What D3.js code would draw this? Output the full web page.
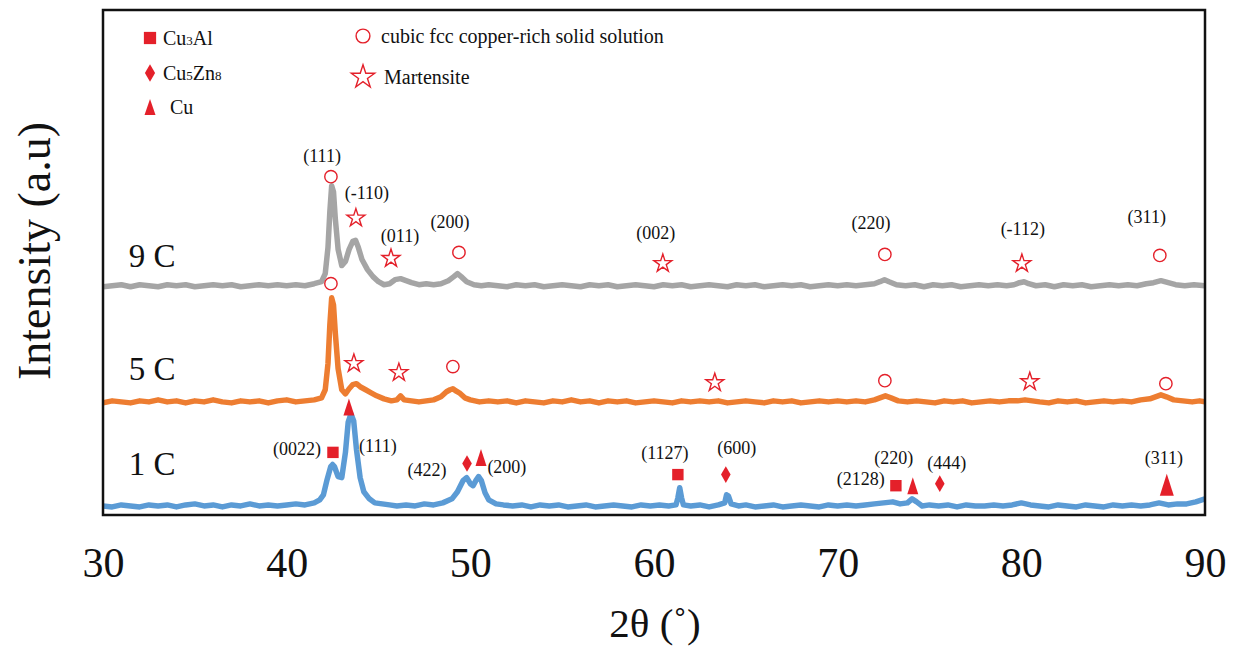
<!DOCTYPE html>
<html>
<head>
<meta charset="utf-8">
<script src="https://cdn.jsdelivr.net/npm/d3@7"></script>
<style>
  body { margin: 0; background: #fff; }
  svg { display: block; }
  text { font-family: "Liberation Serif", "Times New Roman", serif; }
</style>
</head>
<body>
<svg id="chart" width="1234" height="648"></svg>
<script>
// 2-theta ticks
const xTicks = [30, 40, 50, 60, 70, 80, 90];

// vertical offsets of each pattern (a.u.)
const offsets = { "1 C": 7, "5 C": 110, "9 C": 225 };

// relative intensity: [2theta, intensity]
const pattern1C = [
  [30,2],[30.5,1],[31,3],[31.5,2],[32,1],[32.5,3],[33,2],[33.5,3],[34,1],[34.5,3],[35,4],[35.5,2],
  [36,3],[36.5,1],[37,3],[37.5,2],[38,4],[38.5,2],[39,3],[39.5,2],[40,3],[40.5,4],[41,3],[41.5,5],
  [41.8,8],[42.0,13],[42.2,28],[42.4,41],[42.5,43],[42.6,41],[42.8,31],[43.0,30],[43.2,55],[43.35,85],
  [43.5,93],[43.65,86],[43.8,58],[44.0,30],[44.2,16],[44.5,9],[44.8,5],[45.2,4],[45.6,3],[46,2],
  [46.5,3],[47,2],[47.5,4],[48,3],[48.5,5],[49,9],[49.3,16],[49.6,27],[49.8,30],[50.0,24],[50.15,22],
  [50.3,27],[50.45,31],[50.6,27],[50.8,15],[51.0,8],[51.4,4],[51.8,3],[52.3,2],[52.8,3],[53.3,1],
  [53.8,3],[54.3,2],[54.8,3],[55.3,1],[55.8,2],[56.3,3],[56.8,1],[57.3,2],[57.8,3],[58.3,2],[58.8,1],
  [59.3,3],[59.8,2],[60.3,3],[60.8,2],[61.2,3],[61.3,10],[61.4,20],[61.5,10],[61.6,3],[62,2],[62.5,3],
  [63,1],[63.5,3],[63.85,5],[63.95,13],[64.05,12],[64.2,4],[64.6,2],[65,3],[65.5,1],[66,2],[66.5,3],
  [67,1],[67.5,2],[68,3],[68.5,2],[69,1],[69.5,3],[70,2],[70.5,3],[71,2],[71.5,3],[72,4],[72.5,5],
  [73,6],[73.4,4],[73.8,5],[74.05,9],[74.3,6],[74.6,2],[75,3],[75.5,2],[76,3],[76.5,1],[77,3],[77.5,2],
  [78,2],[78.5,3],[79,2],[79.5,3],[80,5],[80.5,3],[81,2],[81.5,1],[82,3],[82.5,2],[83,1],[83.5,3],
  [84,2],[84.5,1],[85,3],[85.5,2],[86,3],[86.5,2],[87,3],[87.5,5],[88,3],[88.5,4],[89,4],[89.5,6],[90,9]
];

const pattern5C = [
  [30,1],[30.5,3],[31,2],[31.5,1],[32,3],[32.5,2],[33,4],[33.5,2],[34,3],[34.5,1],[35,3],[35.5,2],
  [36,4],[36.5,2],[37,1],[37.5,3],[38,2],[38.5,3],[39,1],[39.5,3],[40,4],[40.5,2],[41,3],[41.5,4],
  [41.9,6],[42.1,14],[42.25,40],[42.35,78],[42.45,105],[42.55,98],[42.65,70],[42.8,35],[43.0,14],
  [43.2,10],[43.4,15],[43.6,19],[43.8,20],[44.0,17],[44.3,14],[44.6,11],[44.9,8],[45.3,5],[45.7,3],
  [46.0,4],[46.2,8],[46.4,4],[46.8,3],[47.2,2],[47.6,3],[48.0,4],[48.4,7],[48.7,12],[48.9,14],
  [49.05,15],[49.2,13],[49.4,11],[49.7,6],[50.0,4],[50.5,2],[51,3],[51.5,2],[52,3],[52.5,1],[53,3],
  [53.5,2],[54,1],[54.5,3],[55,2],[55.5,4],[56,2],[56.5,3],[57,1],[57.5,3],[58,2],[58.5,3],[59,1],
  [59.5,2],[60,3],[60.5,2],[61,1],[61.5,3],[62,2],[62.5,3],[63,2],[63.5,3],[64,1],[64.5,2],[65,3],
  [65.5,2],[66,1],[66.5,3],[67,2],[67.5,3],[68,1],[68.5,2],[69,3],[69.5,2],[70,3],[70.5,2],[71,3],
  [71.5,2],[72,4],[72.3,6],[72.6,8],[72.9,6],[73.3,3],[73.8,2],[74.3,3],[74.8,2],[75.3,1],[75.8,3],
  [76.3,2],[76.8,3],[77.3,1],[77.8,2],[78.3,3],[78.8,2],[79.3,3],[79.8,3],[80.2,4],[80.6,3],[81,2],
  [81.5,1],[82,3],[82.5,2],[83,3],[83.5,1],[84,2],[84.5,3],[85,2],[85.5,3],[86,2],[86.5,4],[87,5],
  [87.3,7],[87.6,9],[87.9,7],[88.3,4],[88.8,3],[89.3,2],[89.7,3],[90,2]
];

const pattern9C = [
  [30,1],[30.5,2],[31,3],[31.5,1],[32,3],[32.5,2],[33,1],[33.5,3],[34,2],[34.5,3],[35,1],[35.5,2],
  [36,3],[36.5,2],[37,3],[37.5,1],[38,2],[38.5,3],[39,2],[39.5,3],[40,2],[40.5,3],[41,2],[41.5,4],
  [41.9,6],[42.1,14],[42.25,40],[42.35,75],[42.45,101],[42.55,95],[42.65,68],[42.8,38],[43.0,22],
  [43.2,26],[43.4,38],[43.6,46],[43.75,47],[43.9,40],[44.1,28],[44.4,18],[44.7,11],[45.0,6],[45.3,3],
  [45.6,4],[45.9,8],[46.2,9],[46.5,7],[46.8,5],[47.2,3],[47.6,4],[48.0,3],[48.4,4],[48.8,7],[49.1,11],
  [49.3,14],[49.5,11],[49.8,6],[50.2,3],[50.6,2],[51,3],[51.5,2],[52,1],[52.5,3],[53,2],[53.5,3],
  [54,1],[54.5,2],[55,3],[55.5,2],[56,1],[56.5,3],[57,2],[57.5,3],[58,1],[58.5,2],[59,3],[59.5,2],
  [60,1],[60.5,3],[61,2],[61.5,3],[62,1],[62.5,2],[63,3],[63.5,2],[64,1],[64.5,3],[65,2],[65.5,3],
  [66,1],[66.5,2],[67,3],[67.5,2],[68,3],[68.5,1],[69,2],[69.5,3],[70,2],[70.5,3],[71,2],[71.5,3],
  [72,4],[72.3,6],[72.55,8],[72.8,6],[73.2,3],[73.7,2],[74.2,3],[74.7,1],[75.2,3],[75.7,2],[76.2,3],
  [76.7,1],[77.2,2],[77.7,3],[78.2,2],[78.7,3],[79.2,2],[79.6,3],[79.9,5],[80.15,6],[80.4,4],[80.8,2],
  [81.3,3],[81.8,1],[82.3,3],[82.8,2],[83.3,3],[83.8,1],[84.3,2],[84.8,3],[85.3,2],[85.8,3],[86.3,2],
  [86.8,4],[87.2,5],[87.6,7],[88.0,5],[88.4,3],[88.9,2],[89.4,3],[90,2]
];

const seriesNames = ["9 C", "5 C", "1 C"];
const seriesColors = ["#a5a5a5", "#ed7d31", "#5b9bd5"];
const seriesData = [pattern9C, pattern5C, pattern1C];

// phase markers: [phase, 2theta, level]
const markers = [
  ["fcc", 42.41, 335], ["mart", 43.77, 294], ["mart", 45.68, 254], ["fcc", 49.38, 260],
  ["mart", 60.48, 249], ["fcc", 72.57, 258], ["mart", 80.03, 249], ["fcc", 87.54, 257],
  ["fcc", 42.41, 229], ["mart", 43.66, 150], ["mart", 46.11, 141], ["fcc", 49.05, 147],
  ["mart", 63.31, 131], ["fcc", 72.57, 133], ["mart", 80.46, 132], ["fcc", 87.87, 130],
  ["Cu", 43.39, 107], ["Cu3Al", 42.52, 62], ["Cu5Zn8", 49.82, 51], ["Cu", 50.58, 57],
  ["Cu3Al", 61.3, 40], ["Cu5Zn8", 63.91, 40], ["Cu3Al", 73.17, 29], ["Cu", 74.09, 29],
  ["Cu5Zn8", 75.56, 31], ["CuBig", 87.92, 30]
];

// Miller index labels: [text, 2theta, level]
const peakLabels = [
  ["(111)", 41.93, 356], ["(-110)", 44.37, 319], ["(011)", 46.17, 277], ["(200)", 48.89, 290],
  ["(002)", 60.1, 280], ["(220)", 71.81, 289], ["(-112)", 80.08, 283], ["(311)", 86.83, 295],
  ["(0022)", 40.56, 66], ["(111)", 44.97, 69], ["(422)", 47.64, 45], ["(200)", 51.99, 48],
  ["(1127)", 60.59, 62], ["(600)", 64.51, 67], ["(2128)", 71.26, 36], ["(220)", 73.06, 57],
  ["(444)", 75.94, 52], ["(311)", 87.76, 57]
];

// series name positions: [name, 2theta, level]
const seriesLabelPos = [["9 C", 31.4, 246], ["5 C", 31.4, 134], ["1 C", 31.4, 40]];

const red = "#e4202a";

const svg = d3.select("#chart");
const margin = { left: 103, right: 29, top: 10, bottom: 133 };
const W = 1234, H = 648;

const x = d3.scaleLinear().domain([30, 90]).range([margin.left, W - margin.right]);
const y = d3.scaleLinear().domain([0, 500]).range([H - margin.bottom, margin.top]);

svg.append("clipPath").attr("id", "plot-clip")
  .append("rect")
  .attr("x", margin.left).attr("y", margin.top)
  .attr("width", x.range()[1] - x.range()[0])
  .attr("height", y.range()[0] - y.range()[1]);

// patterns
const plot = svg.append("g").attr("clip-path", "url(#plot-clip)");
seriesNames.forEach((name, i) => {
  const line = d3.line()
    .x(d => x(d[0]))
    .y(d => y(d[1] + offsets[name]));
  plot.append("path")
    .datum(seriesData[i])
    .attr("fill", "none")
    .attr("stroke", seriesColors[i])
    .attr("stroke-width", 5.5)
    .attr("stroke-linejoin", "round")
    .attr("d", line);
});

// frame
svg.append("rect")
  .attr("x", margin.left).attr("y", margin.top)
  .attr("width", x.range()[1] - x.range()[0])
  .attr("height", y.range()[0] - y.range()[1])
  .attr("fill", "none")
  .attr("stroke", "#111")
  .attr("stroke-width", 2.5);

// marker shapes
function triPath(w, h) {
  return `M0,${-h / 2}L${w / 2},${h / 2}L${-w / 2},${h / 2}Z`;
}
function markerPath(phase) {
  switch (phase) {
    case "Cu3Al": return d3.symbol(d3.symbolSquare, 130)();
    case "Cu5Zn8": return d3.symbol(d3.symbolDiamond, 80)();
    case "Cu": return triPath(11, 17);
    case "CuBig": return triPath(14, 22);
    case "fcc": return d3.symbol(d3.symbolCircle, 120)();
    case "mart": return d3.symbol(d3.symbolStar, 100)();
  }
}
const hollow = p => p === "fcc" || p === "mart";

svg.append("g").selectAll("path")
  .data(markers)
  .join("path")
  .attr("transform", d => `translate(${x(d[1])},${y(d[2])})`)
  .attr("d", d => markerPath(d[0]))
  .attr("fill", d => hollow(d[0]) ? "none" : red)
  .attr("stroke", red)
  .attr("stroke-width", d => hollow(d[0]) ? 1.4 : 0);

// Miller labels
svg.append("g").selectAll("text")
  .data(peakLabels)
  .join("text")
  .attr("x", d => x(d[1]))
  .attr("y", d => y(d[2]))
  .attr("dy", "0.35em")
  .attr("text-anchor", "middle")
  .attr("font-size", 18)
  .attr("fill", "#111")
  .text(d => d[0]);

// series names
svg.append("g").selectAll("text")
  .data(seriesLabelPos)
  .join("text")
  .attr("x", d => x(d[1]))
  .attr("y", d => y(d[2]))
  .attr("font-size", 33)
  .attr("fill", "#111")
  .text(d => d[0]);

// x axis labels
const xAxis = d3.axisBottom(x).tickValues(xTicks).tickSize(0).tickPadding(0);
const gx = svg.append("g")
  .attr("transform", `translate(0,${H - margin.bottom})`)
  .call(xAxis);
gx.select(".domain").remove();
gx.selectAll("text")
  .attr("font-size", 42)
  .attr("fill", "#111")
  .attr("dy", null)
  .attr("y", 62);

// axis titles
svg.append("text")
  .attr("x", 655).attr("y", 637)
  .attr("text-anchor", "middle")
  .attr("font-size", 41)
  .attr("fill", "#111")
  .text("2θ (˚)");

svg.append("text")
  .attr("transform", "translate(50,251) rotate(-90)")
  .attr("text-anchor", "middle")
  .attr("font-size", 46)
  .attr("fill", "#111")
  .text("Intensity (a.u)");

// legend
const legendLeft = [
  { phase: "Cu3Al", main: "Cu", sub: "3", rest: "Al", y: 38 },
  { phase: "Cu5Zn8", main: "Cu", sub: "5", rest: "Zn", sub2: "8", y: 73 },
  { phase: "Cu", main: "Cu", y: 107 }
];
const legendRight = [
  { phase: "fcc", label: "cubic fcc copper-rich solid solution", y: 36 },
  { phase: "mart", label: "Martensite", y: 77 }
];

const lg = svg.append("g");
legendLeft.forEach(d => {
  const p = d.phase === "Cu" ? triPath(11, 16) : d.phase === "Cu5Zn8"
    ? d3.symbol(d3.symbolDiamond, 90)() : d3.symbol(d3.symbolSquare, 150)();
  lg.append("path")
    .attr("transform", `translate(150,${d.y})`)
    .attr("d", p)
    .attr("fill", red);
  const t = lg.append("text")
    .attr("x", d.phase === "Cu" ? 170 : 163)
    .attr("y", d.y + 7)
    .attr("font-size", 20)
    .attr("fill", "#111");
  t.append("tspan").text(d.main);
  if (d.sub) t.append("tspan").attr("font-size", 13).text(d.sub);
  if (d.rest) t.append("tspan").text(d.rest);
  if (d.sub2) t.append("tspan").attr("font-size", 13).text(d.sub2);
});
legendRight.forEach(d => {
  lg.append("path")
    .attr("transform", `translate(363,${d.y})`)
    .attr("d", d.phase === "fcc" ? d3.symbol(d3.symbolCircle, 150)() : d3.symbol(d3.symbolStar, 170)())
    .attr("fill", "none")
    .attr("stroke", red)
    .attr("stroke-width", 1.4);
  lg.append("text")
    .attr("x", d.phase === "fcc" ? 381 : 384)
    .attr("y", d.y + 7)
    .attr("font-size", 20)
    .attr("fill", "#111")
    .text(d.label);
});
</script>
</body>
</html>
